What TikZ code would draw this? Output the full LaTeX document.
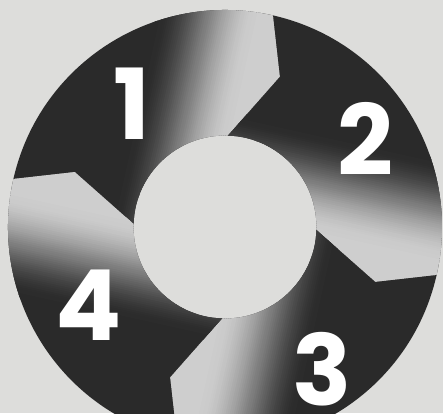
\documentclass[tikz,border=0pt]{standalone}
\usepackage{fontspec}
\newfontfamily\numfont{Poppins}
\definecolor{bgc}{RGB}{221,221,219}
\definecolor{darkc}{RGB}{42,42,42}
\definecolor{lightc}{RGB}{206,206,206}
\tikzset{
  num/.style={text=white, font=\numfont\bfseries\fontsize{98}{98}\selectfont, inner sep=0pt}
}
\begin{document}
\begin{tikzpicture}
\useasboundingbox (-225pt,-186pt) rectangle (218pt,227pt);
\fill[bgc] (-225pt,-186pt) rectangle (218pt,227pt);
\foreach \k in {0,1,2,3}{
  \begin{scope}[rotate=-90*\k]
    \clip (167.2:217pt) arc[start angle=167.2, end angle=77.2, radius=217pt]
      -- (69.9:160pt) -- (88.1:91.5pt)
      arc[start angle=88.1, end angle=178.1, radius=91.5pt]
      -- (159.9:160pt) -- cycle;
    \begin{scope}[rotate=-12.5]
      \fill[darkc] (-300pt,-300pt) rectangle (300pt,300pt);
      \foreach \i in {0,...,50}{
        \pgfmathsetmacro\t{\i/50}
        \pgfmathtruncatemacro\p{100*(3*\t*\t-2*\t*\t*\t)}
        \fill[lightc!\p!darkc] ({(-115+\i*2)*1pt},-300pt) rectangle ({(-112+\i*2)*1pt},300pt);
      }
      \fill[lightc] (-15pt,-300pt) rectangle (300pt,300pt);
    \end{scope}
  \end{scope}
}
\node[num] (d1) at (-93pt,123.5pt) {1};
\node[num] (d2) at (140pt,88pt) {2};
\node[num] (d3) at (97pt,-142pt) {3};
\node[num] (d4) at (-136pt,-78pt) {4};
\end{tikzpicture}
\end{document}
